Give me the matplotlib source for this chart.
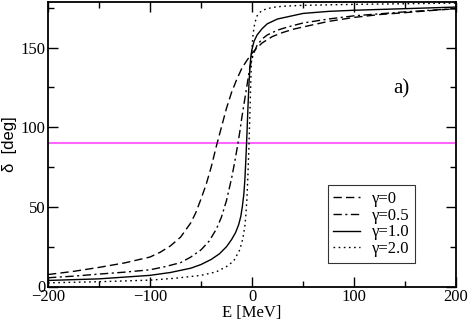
import matplotlib.pyplot as plt
import numpy as np

plt.rcParams['font.family'] = ['Liberation Serif', 'DejaVu Serif']

# gamma = 0 (dashed)
e0 = [-200, -175, -150, -125, -100, -90, -80, -70, -60, -55, -50, -45, -40, -35, -30, -25, -20, -15,
      -10, -5, 0, 5, 10, 20, 30, 40, 50, 75, 100, 125, 150, 175, 200]
d0 = [7.5, 9.5, 12, 14.8, 18.5, 21.5, 25.5, 31, 40, 46.5, 55, 64, 75, 88, 100, 112, 122, 130,
      137, 142, 146.5, 150, 153, 157, 159.5, 161.5, 163, 166.5, 169, 170.8, 172, 173.3, 174.5]

# gamma = 0.5 (dash-dot)
e05 = [-200, -175, -150, -125, -100, -85, -70, -60, -50, -42, -35, -30, -25, -20, -17, -14, -12, -10,
       -8, -6, -4, -2, 0, 2, 5, 10, 15, 25, 35, 50, 75, 100, 150, 200]
d05 = [5.5, 6.5, 7.8, 9, 10.5, 12.5, 15, 18.5, 23, 28.5, 36, 43.5, 54, 68, 78, 89, 97, 106,
       114, 122, 130, 138, 143, 147, 151.5, 155.5, 158, 161, 163, 165.5, 168, 170, 172.5, 174.5]

# gamma = 1.0 (solid)
e1 = [-200, -150, -100, -80, -60, -50, -40, -32, -25, -20, -16, -13, -11, -9.5, -8, -7, -6, -5,
      -4, -3, -2, -1, 0, 2, 5, 10, 15, 25, 50, 75, 100, 150, 200]
d1 = [3.8, 4.8, 7, 8.8, 11.5, 13.8, 17, 20.5, 25, 29.5, 34, 39, 44, 50, 58, 67, 80, 95,
      112, 127, 138, 145, 149, 154, 158, 162, 165, 168, 171.5, 172.8, 173.5, 174.5, 175.5]

# gamma = 2.0 (dotted)
e2 = [-200, -150, -100, -75, -50, -35, -25, -18, -12, -9, -7, -6, -5, -4, -3, -2, -1, 0,
      1, 2, 3.5, 5, 7.5, 10, 20, 30, 50, 100, 150, 200]
d2 = [2.3, 3, 4, 5.2, 7, 9.2, 12.5, 16, 23, 30, 38, 45, 55, 70, 88, 110, 133, 150,
      158, 163, 167, 170, 172, 173.5, 175.3, 176, 176.6, 177.2, 177.6, 178]

fig = plt.figure(figsize=(4.69, 3.2), dpi=100)
ax = fig.add_axes([48 / 469, 33.5 / 320, 408 / 469, 285 / 320])

ax.axhline(90, color='#ff66ff', lw=1.5)
ax.plot(e0, d0, color='black', lw=1.0, dashes=(6, 3), label='γ=0')
ax.plot(e05, d05, color='black', lw=1.0, dashes=(6, 2.5, 1.5, 2.5), label='γ=0.5')
ax.plot(e1, d1, color='black', lw=1.0, label='γ=1.0')
ax.plot(e2, d2, color='black', lw=1.0, dashes=(1.2, 2.5), label='γ=2.0')

ax.set_xlim(-200, 200)
ax.set_ylim(0, 179)
ax.set_xticks([-200, -100, 0, 100, 200])
ax.set_xticks([-150, -50, 50, 150], minor=True)
ax.set_yticks([0, 50, 100, 150])
ax.set_yticks([25, 75, 125, 175], minor=True)
ax.tick_params(which='both', direction='in', top=True, right=True, labelsize=12, width=1)
ax.tick_params(which='major', length=7, pad=2)
ax.tick_params(which='minor', length=4)
for s in ax.spines.values():
    s.set_linewidth(1.3)

ax.set_xlabel('E [MeV]', fontsize=12, labelpad=0)
ax.set_ylabel('δ  [deg]', fontsize=12, family=['Liberation Sans'])
ax.yaxis.set_label_coords(-0.075, 0.5)
ax.text(146, 124, 'a)', fontsize=15, ha='center', va='center')

leg = ax.legend(loc='lower right', bbox_to_anchor=(0.9, 0.082), fontsize=12, frameon=True,
                fancybox=False, edgecolor='black', handlelength=1.6, handletextpad=0.7,
                labelspacing=0.05, borderpad=0.35, borderaxespad=0)
leg.get_frame().set_linewidth(0.8)

fig.savefig('out.png', dpi=100)
